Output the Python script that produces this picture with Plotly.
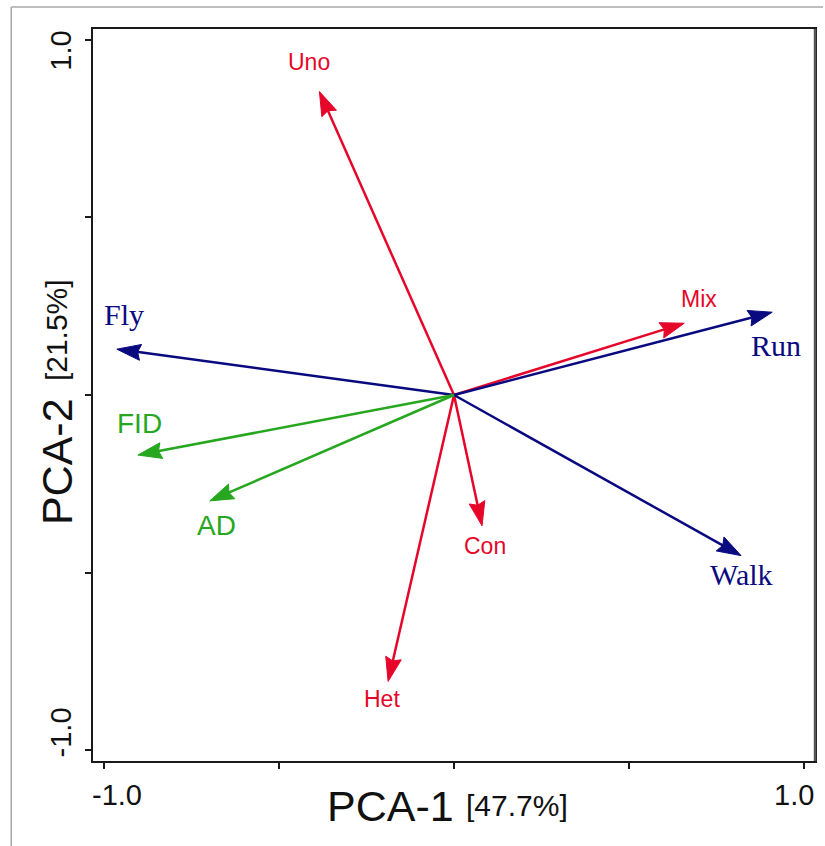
import numpy as np
import plotly.graph_objects as go

# ---------------- data ----------------
variables = ["Uno", "Mix", "Con", "Het", "Fly", "Run", "Walk", "FID", "AD"]
pc1 = [-0.384, 0.657, 0.080, -0.188, -0.962, 0.908, 0.819, -0.902, -0.697]
pc2 = [0.854, 0.202, -0.368, -0.806, 0.129, 0.233, -0.452, -0.169, -0.298]
groups = ["habitat", "habitat", "habitat", "habitat",
          "escape", "escape", "escape",
          "distance", "distance"]

x_tickvals = [-1.0, -0.5, 0.0, 0.5, 1.0]
y_tickvals = [-1.0, -0.5, 0.0, 0.5, 1.0]
tick_label_vals = [-1.0, 1.0]
tick_label_text = ["-1.0", "1.0"]

x_title = "PCA-1"
x_title_pct = "[47.7%]"
y_title = "PCA-2"
y_title_pct = "[21.5%]"

# ---------------- style ----------------
W, H = 825, 846
ML, MR, MT, MB = 93, 8, 29, 85
XR = [-1.03, 1.03]
YR = [-1.03, 1.03]
plot_w = W - ML - MR
plot_h = H - MT - MB
sx = plot_w / (XR[1] - XR[0])
sy = plot_h / (YR[1] - YR[0])

NARROW = "Liberation Sans Narrow, Arial Narrow, Arial, Liberation Sans, sans-serif"
SANS = "Arial, Liberation Sans, sans-serif"
SERIF = "Times New Roman, Liberation Serif, serif"

group_style = {
    "habitat": dict(color="#E5062A", font=NARROW, size=23),
    "escape": dict(color="#0A0A80", font=SERIF, size=30),
    "distance": dict(color="#26A71F", font=SANS, size=28),
}
# label offsets from arrow tip (pixels, screen: +x right, +y up)
label_offsets = {
    "Uno": (-10, 30), "Mix": (15, 24), "Con": (3, -20), "Het": (-6, -18),
    "Fly": (7, 35), "Run": (4, -33), "Walk": (0, -19),
    "FID": (2, 32), "AD": (7, -25),
}
HEAD_L, HEAD_W, NOTCH = 24, 8, 3

fig = go.Figure()
annotations = []

for name, x, y, g in zip(variables, pc1, pc2, groups):
    st = group_style[g]
    px, py = x * sx, y * sy
    n = np.hypot(px, py)
    ux, uy = px / n, py / n
    vx, vy = -uy, ux
    base_px = (px - (HEAD_L - NOTCH - 1) * ux, py - (HEAD_L - NOTCH - 1) * uy)
    fig.add_trace(go.Scatter(
        x=[0, base_px[0] / sx], y=[0, base_px[1] / sy], mode="lines",
        line=dict(color=st["color"], width=2.5), hoverinfo="skip", showlegend=False))
    hx = [px,
          px - HEAD_L * ux + HEAD_W * vx,
          px - (HEAD_L - NOTCH) * ux,
          px - HEAD_L * ux - HEAD_W * vx,
          px]
    hy = [py,
          py - HEAD_L * uy + HEAD_W * vy,
          py - (HEAD_L - NOTCH) * uy,
          py - HEAD_L * uy - HEAD_W * vy,
          py]
    fig.add_trace(go.Scatter(
        x=[v / sx for v in hx], y=[v / sy for v in hy], mode="lines",
        fill="toself", fillcolor=st["color"],
        line=dict(color=st["color"], width=1), hoverinfo="skip", showlegend=False))
    dx, dy = label_offsets[name]
    annotations.append(dict(
        x=x, y=y, xref="x", yref="y", text=name, showarrow=False,
        xshift=dx, yshift=dy, xanchor="center", yanchor="middle",
        font=dict(family=st["font"], size=st["size"], color=st["color"])))

# tick labels
tick_font = dict(family=NARROW, size=29, color="#111111")
x_label_shift = {-1.0: 13, 1.0: -10}
y_label_shift = {-1.0: 18, 1.0: -11}
for v, t in zip(tick_label_vals, tick_label_text):
    annotations.append(dict(x=v, y=-(795 - (H - MB)) / plot_h, xref="x", yref="paper",
                            text=t, showarrow=False, xanchor="center", yanchor="middle",
                            xshift=x_label_shift[v], font=tick_font))
    annotations.append(dict(x=(61 - ML) / plot_w, y=v, xref="paper", yref="y",
                            text=t, showarrow=False, xanchor="center", yanchor="middle",
                            yshift=y_label_shift[v], textangle=-90, font=tick_font))

# axis titles
annotations.append(dict(x=(391 - ML) / plot_w, y=-(806 - (H - MB)) / plot_h, xref="paper", yref="paper",
                        text=x_title, showarrow=False, xanchor="center", yanchor="middle",
                        font=dict(family=NARROW, size=43, color="#111111")))
annotations.append(dict(x=(518 - ML) / plot_w, y=-(805 - (H - MB)) / plot_h, xref="paper", yref="paper",
                        text=x_title_pct, showarrow=False, xanchor="center", yanchor="middle",
                        font=dict(family=NARROW, size=30, color="#111111")))
annotations.append(dict(x=(57 - ML) / plot_w, y=((H - MB) - 462) / plot_h, xref="paper", yref="paper",
                        text=y_title, showarrow=False, xanchor="center", yanchor="middle",
                        textangle=-90, font=dict(family=NARROW, size=43, color="#111111")))
annotations.append(dict(x=(57 - ML) / plot_w, y=((H - MB) - 330) / plot_h, xref="paper", yref="paper",
                        text=y_title_pct, showarrow=False, xanchor="center", yanchor="middle",
                        textangle=-90, font=dict(family=NARROW, size=30, color="#111111")))

# outer light-grey frame (left and top) and grey right edge of the plot box
gx = (11 - ML) / plot_w
gy_top = 1 + (MT - 7) / plot_h
shapes = [
    dict(type="line", xref="paper", yref="paper", x0=gx, x1=gx, y0=-MB / plot_h, y1=gy_top,
         line=dict(color="#A8A8A8", width=1.5)),
    dict(type="line", xref="paper", yref="paper", x0=gx, x1=(W - ML) / plot_w, y0=gy_top, y1=gy_top,
         line=dict(color="#A8A8A8", width=1.5)),
    dict(type="line", xref="paper", yref="paper", x0=1, x1=1, y0=0, y1=1, layer="above",
         line=dict(color="#555555", width=2.5)),
]

axis_common = dict(showgrid=False, zeroline=False, showline=True, linecolor="#1a1a1a",
                   linewidth=2, mirror=True, ticks="outside", ticklen=6, tickwidth=1.5,
                   tickcolor="#1a1a1a", showticklabels=False, fixedrange=True)
fig.update_layout(
    width=W, height=H,
    margin=dict(l=ML, r=MR, t=MT, b=MB),
    paper_bgcolor="white", plot_bgcolor="white",
    xaxis=dict(range=XR, tickvals=x_tickvals, **axis_common),
    yaxis=dict(range=YR, tickvals=y_tickvals, **axis_common),
    annotations=annotations, shapes=shapes, showlegend=False,
)

fig.write_html("out.html", config={"displayModeBar": False},
               post_script="document.body.style.margin='0';document.body.style.overflow='hidden';")
